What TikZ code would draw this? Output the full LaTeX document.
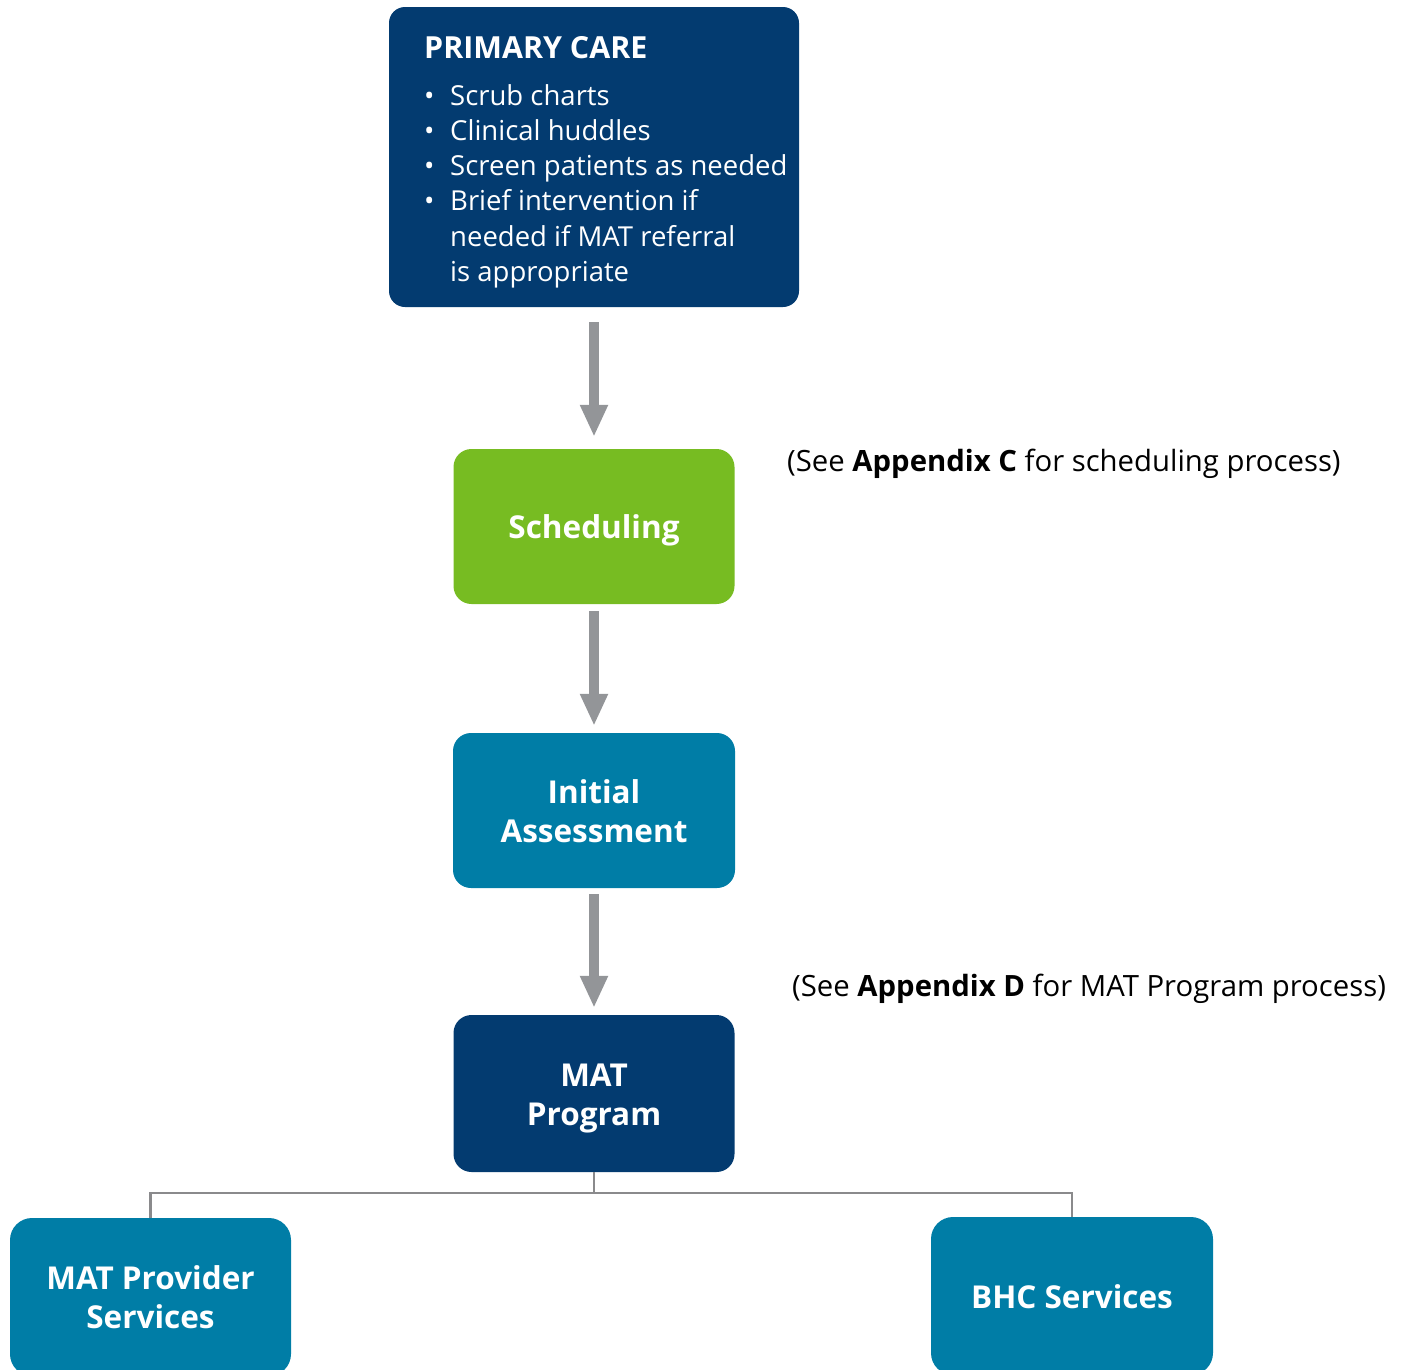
\documentclass[tikz,border=0pt]{standalone}
\usepackage{fontspec}
\setmainfont{Open Sans}
\usetikzlibrary{arrows.meta}
\definecolor{navy}{HTML}{033B70}
\definecolor{green}{HTML}{77BC22}
\definecolor{teal}{HTML}{007DA6}
\definecolor{arrowgray}{HTML}{939598}
\definecolor{linegray}{HTML}{8A8A8C}
\newcommand{\boxtxt}[1]{\raisebox{-4.5pt}[\height][\depth]{\begin{tabular}{@{}c@{}}#1\end{tabular}}}
\tikzset{
  box/.style={draw=none, rounded corners=18pt, inner sep=0pt, text=white, align=center,
    font=\fontsize{31.5}{39}\selectfont\bfseries},
  flowarrow/.style={draw=arrowgray, line width=10pt, -{Triangle[width=26pt,length=32pt]}},
  tree/.style={draw=linegray, line width=2.5pt},
  note/.style={anchor=west, inner sep=0pt, font=\fontsize{29.3}{36}\selectfont}
}
\begin{document}
\begin{tikzpicture}[x=1pt, y=-1pt]
\useasboundingbox (0,0) rectangle (1408,1369);
\clip (0,0) rectangle (1408,1369);
\node[box, fill=navy, minimum width=410pt, minimum height=300pt, rounded corners=16pt] (pc) at (594,157) {};
\node[anchor=base west, inner sep=0pt, text=white, align=left, font=\fontsize{27.5}{35.3}\selectfont] (pctext) at (424,58)
{\begin{tabular}[t]{@{}p{26pt}@{}l@{}}
\multicolumn{2}{@{}l@{}}{\fontsize{30.4}{35.3}\selectfont\bfseries PRIMARY CARE}\\[11.7pt]
• & Scrub charts\\
• & Clinical huddles\\
• & Screen patients as needed\\
• & Brief intervention if\\
 & needed if MAT referral\\
 & is appropriate
\end{tabular}};
\node[box, fill=green, minimum width=281pt, minimum height=155pt] (sched) at (594,526.5) {\boxtxt{Scheduling}};
\node[box, fill=teal, minimum width=282pt, minimum height=155pt] (ia) at (594,810.5) {\boxtxt{Initial\\Assessment}};
\node[box, fill=navy, minimum width=281pt, minimum height=157pt] (mat) at (594,1093.5) {\boxtxt{MAT\\Program}};
\node[box, fill=teal, minimum width=281pt, minimum height=158pt, rounded corners=22pt] (mps) at (150.5,1297) {\boxtxt{MAT Provider\\Services}};
\node[box, fill=teal, minimum width=282pt, minimum height=158pt, rounded corners=22pt] (bhc) at (1072,1296) {\boxtxt{BHC Services}};
\draw[flowarrow, shorten <=15pt, shorten >=12pt] (pc.south) -- (sched.north);
\draw[flowarrow, shorten <=7pt, shorten >=7pt] (sched.south) -- (ia.north);
\draw[flowarrow, shorten <=6pt, shorten >=7pt] (ia.south) -- (mat.north);
\draw[tree] (mat.south) -- ++(0,21) -| (mps.north);
\draw[tree] (mat.south) -- ++(0,21) -| (bhc.north);
\node[note] (noteC) at (787,464) {(See \textbf{Appendix C} for scheduling process)};
\node[note] (noteD) at (792,989) {(See \textbf{Appendix D} for MAT Program process)};
\end{tikzpicture}
\end{document}
